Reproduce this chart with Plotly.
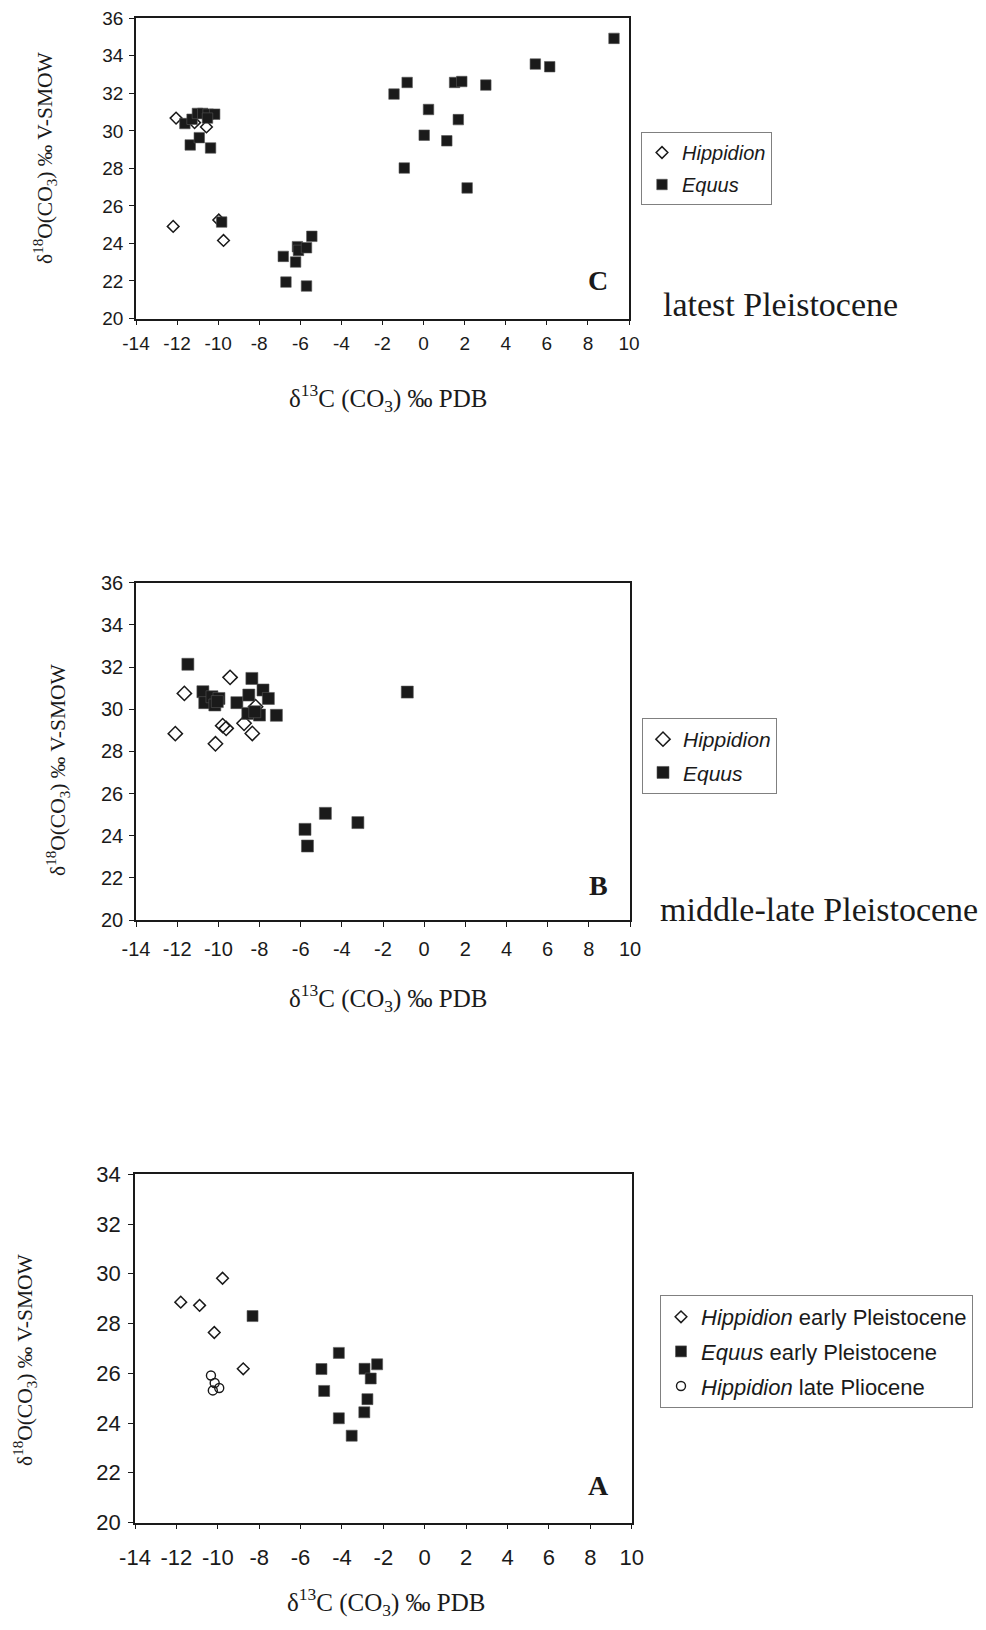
import plotly.graph_objects as go

# page is 986x1630; the browser body keeps an 8px margin around the figure
PAGE_OFF = 8
W, H = 986 - 2 * PAGE_OFF, 1630 - 2 * PAGE_OFF

# ---------------- data ----------------
# Panel C: latest Pleistocene
c_hipp_x = [-12.05, -11.15, -10.57, -12.19, -9.97, -9.74]
c_hipp_y = [30.68, 30.44, 30.21, 24.91, 25.25, 24.16]
c_equus_x = [-11.62, -11.27, -11.01, -10.75, -10.49, -10.17, -10.52, -11.36, -10.92, -10.37,
             -9.83, -6.83, -6.23, -6.14, -6.09, -5.70, -5.44, -6.70, -5.70, -1.44, -0.80,
             0.24, 0.03, -0.94, 1.13, 1.51, 1.86, 1.69, 2.12, 3.03, 5.44, 6.14, 9.27]
c_equus_y = [30.39, 30.62, 30.93, 30.93, 30.89, 30.89, 30.68, 29.25, 29.64, 29.09,
             25.14, 23.31, 23.01, 23.83, 23.63, 23.77, 24.38, 21.94, 21.73, 31.96, 32.58,
             31.14, 29.77, 28.02, 29.47, 32.58, 32.63, 30.60, 26.96, 32.44, 33.56, 33.42, 34.93]

# Panel B: middle-late Pleistocene
b_hipp_x = [-11.65, -12.09, -9.43, -10.14, -9.79, -9.62, -8.75, -8.35, -8.19]
b_hipp_y = [30.75, 28.84, 31.51, 28.36, 29.22, 29.09, 29.33, 28.85, 30.12]
b_equus_x = [-11.48, -10.75, -10.66, -10.31, -10.17, -9.97, -10.05, -9.10, -8.52, -8.37,
             -8.57, -8.00, -7.83, -7.57, -7.18, -8.23, -0.82, -5.79, -5.67, -4.80, -3.22]
b_equus_y = [32.13, 30.83, 30.31, 30.59, 30.20, 30.51, 30.36, 30.31, 30.67, 31.46,
             29.80, 29.72, 30.91, 30.51, 29.71, 29.88, 30.81, 24.30, 23.51, 25.06, 24.62]

# Panel A: early Pleistocene / late Pliocene
a_hipp_x = [-11.79, -10.88, -9.77, -10.17, -8.77]
a_hipp_y = [28.86, 28.73, 29.82, 27.64, 26.18]
a_equus_x = [-8.32, -4.99, -4.15, -4.86, -2.91, -2.30, -2.61, -2.77, -2.92, -4.15, -3.53]
a_equus_y = [28.30, 26.17, 26.82, 25.29, 26.18, 26.36, 25.79, 24.96, 24.43, 24.19, 23.49]
a_plio_x = [-10.33, -10.15, -9.93, -10.24]
a_plio_y = [25.91, 25.61, 25.41, 25.31]

x_tick_vals = [-14, -12, -10, -8, -6, -4, -2, 0, 2, 4, 6, 8, 10]
x_tick_labels = ["-14", "-12", "-10", "-8", "-6", "-4", "-2", "0", "2", "4", "6", "8", "10"]
y_range_cb = [20, 36]
y_range_a = [20, 34]

x_title = "δ<sup>13</sup>C (CO<sub>3</sub>) ‰ PDB"
y_title = "δ<sup>18</sup>O(CO<sub>3</sub>) ‰ V-SMOW"

SANS = "Liberation Sans, Arial, sans-serif"
SERIF = "Liberation Serif, Times New Roman, serif"
INK = "#1a1a1a"


def px(x):
    return (x - PAGE_OFF) / W


def py(y):
    return 1 - (y - PAGE_OFF) / H


fig = go.Figure()


def diamonds(x, y, name, xa, ya, leg, size):
    return go.Scatter(x=x, y=y, mode="markers", name=name, xaxis=xa, yaxis=ya, legend=leg,
                      legendgroup=name + leg,
                      marker=dict(symbol="diamond-open", size=size, color=INK, line=dict(width=1.5, color=INK)))


def squares(x, y, name, xa, ya, leg, size):
    return go.Scatter(x=x, y=y, mode="markers", name=name, xaxis=xa, yaxis=ya, legend=leg,
                      legendgroup=name + leg,
                      marker=dict(symbol="square", size=size, color=INK, line=dict(width=0.6, color="#555")))


fig.add_trace(diamonds(c_hipp_x, c_hipp_y, "<i>Hippidion</i>", "x", "y", "legend", 9))
fig.add_trace(squares(c_equus_x, c_equus_y, "<i>Equus</i>", "x", "y", "legend", 10.5))

fig.add_trace(diamonds(b_hipp_x, b_hipp_y, "<i>Hippidion</i>", "x2", "y2", "legend2", 11))
fig.add_trace(squares(b_equus_x, b_equus_y, "<i>Equus</i>", "x2", "y2", "legend2", 12))

fig.add_trace(diamonds(a_hipp_x, a_hipp_y, "<i>Hippidion</i> early Pleistocene", "x3", "y3", "legend3", 9))
fig.add_trace(squares(a_equus_x, a_equus_y, "<i>Equus</i> early Pleistocene", "x3", "y3", "legend3", 11))
fig.add_trace(go.Scatter(x=a_plio_x, y=a_plio_y, mode="markers", name="<i>Hippidion</i> late Pliocene",
                         xaxis="x3", yaxis="y3", legend="legend3", legendgroup="plio",
                         marker=dict(symbol="circle-open", size=9, color=INK, line=dict(width=1.4, color=INK))))


def xaxis(domain, anchor, fs, standoff):
    return dict(domain=domain, anchor=anchor, range=[x_tick_vals[0], x_tick_vals[-1]],
                tickmode="array", tickvals=x_tick_vals, ticktext=x_tick_labels,
                showline=True, mirror=True, linecolor=INK, linewidth=1.6,
                ticks="outside", ticklen=5, tickcolor=INK, tickwidth=1, automargin=False,
                ticklabeloverflow="allow",
                showgrid=False, zeroline=False, ticklabelstandoff=standoff,
                tickfont=dict(family=SANS, size=fs, color=INK))


def yaxis(domain, anchor, rng, fs, standoff):
    return dict(domain=domain, anchor=anchor, range=rng, dtick=2, tick0=0,
                showline=True, mirror=True, linecolor=INK, linewidth=1.6,
                ticks="outside", ticklen=5, tickcolor=INK, tickwidth=1, automargin=False,
                ticklabeloverflow="allow",
                showgrid=False, zeroline=False, ticklabelstandoff=standoff,
                tickfont=dict(family=SANS, size=fs, color=INK))


# pixel layout (page pixels)
C_x = [px(136), px(629)]
C_y = [py(318.5), py(18.3)]
B_x = [px(136), px(630)]
B_y = [py(920), py(582.7)]
A_x = [px(135), px(631.7)]
A_y = [py(1522.5), py(1174.3)]

legend_common = dict(bgcolor="white", bordercolor="#808080", borderwidth=1,
                     xanchor="left", yanchor="top", traceorder="grouped",
                     itemclick=False, itemdoubleclick=False)

annotations = []
# x titles
for xc, yc in [(388, 398), (388, 998), (386, 1602)]:
    annotations.append(dict(x=px(xc), y=py(yc), xref="paper", yref="paper", text=x_title,
                            showarrow=False, xanchor="center", yanchor="middle",
                            font=dict(family=SERIF, size=25, color=INK)))
# y titles
for xc, yc in [(45, 158), (58, 770), (25, 1360)]:
    annotations.append(dict(x=px(xc), y=py(yc), xref="paper", yref="paper", text=y_title,
                            showarrow=False, textangle=-90, xanchor="center", yanchor="middle",
                            font=dict(family=SERIF, size=21.5, color=INK)))
# panel letters
for letter, yc in [("C", 281), ("B", 885), ("A", 1485)]:
    annotations.append(dict(x=px(598), y=py(yc), xref="paper", yref="paper", text="<b>%s</b>" % letter,
                            showarrow=False, xanchor="center", yanchor="middle",
                            font=dict(family=SERIF, size=28, color=INK)))
# period labels
annotations.append(dict(x=px(661), y=py(305), xref="paper", yref="paper", text="latest Pleistocene",
                        showarrow=False, xanchor="left", yanchor="middle",
                        font=dict(family=SERIF, size=34, color=INK)))
annotations.append(dict(x=px(658), y=py(910), xref="paper", yref="paper", text="middle-late Pleistocene",
                        showarrow=False, xanchor="left", yanchor="middle",
                        font=dict(family=SERIF, size=34, color=INK)))

fig.update_layout(
    template="none",
    width=W, height=H,
    margin=dict(l=0, r=0, t=0, b=0, pad=0, autoexpand=False),
    paper_bgcolor="white", plot_bgcolor="white",
    showlegend=True,
    xaxis=xaxis(C_x, "y", 19, 2),
    yaxis=yaxis(C_y, "x", y_range_cb, 19, 2),
    xaxis2=xaxis(B_x, "y2", 20, 5),
    yaxis2=yaxis(B_y, "x2", y_range_cb, 20, 2),
    xaxis3=xaxis(A_x, "y3", 22, 9),
    yaxis3=yaxis(A_y, "x3", y_range_a, 22, 3),
    legend=dict(x=px(641), y=py(132), font=dict(family=SANS, size=20, color=INK),
                tracegroupgap=3, **legend_common),
    legend2=dict(x=px(642), y=py(718), font=dict(family=SANS, size=21, color=INK),
                 tracegroupgap=3, **legend_common),
    legend3=dict(x=px(660), y=py(1295), font=dict(family=SANS, size=22, color=INK),
                 tracegroupgap=3, **legend_common),
    annotations=annotations,
)

fig.write_html("out.html")
